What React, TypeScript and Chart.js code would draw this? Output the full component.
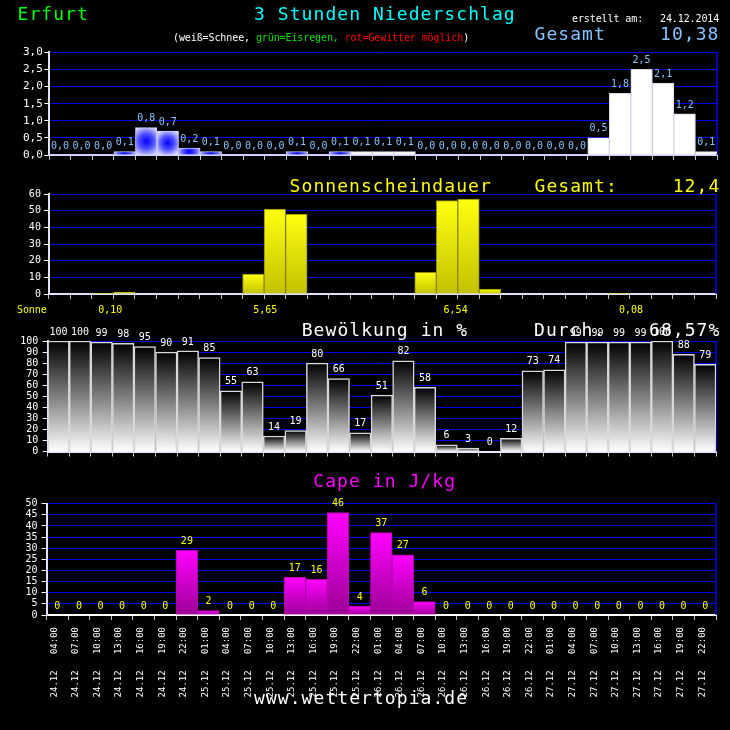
import React, { useEffect, useRef } from 'react';
import { Chart, registerables } from 'chart.js';

Chart.register(...registerables);

const MONO = '"DejaVu Sans Mono", monospace';

// ---------- data ----------
const slotDates = [
  '24.12', '24.12', '24.12', '24.12', '24.12', '24.12', '24.12',
  '25.12', '25.12', '25.12', '25.12', '25.12', '25.12', '25.12', '25.12',
  '26.12', '26.12', '26.12', '26.12', '26.12', '26.12', '26.12', '26.12',
  '27.12', '27.12', '27.12', '27.12', '27.12', '27.12', '27.12', '27.12',
];
const slotTimes = [
  '04:00', '07:00', '10:00', '13:00', '16:00', '19:00', '22:00',
  '01:00', '04:00', '07:00', '10:00', '13:00', '16:00', '19:00', '22:00',
  '01:00', '04:00', '07:00', '10:00', '13:00', '16:00', '19:00', '22:00',
  '01:00', '04:00', '07:00', '10:00', '13:00', '16:00', '19:00', '22:00',
];

// 3-hour precipitation in mm
const precipitation = [
  0.0, 0.0, 0.0, 0.1, 0.8, 0.7, 0.2, 0.1, 0.0, 0.0, 0.0, 0.1, 0.0, 0.1, 0.1, 0.1,
  0.1, 0.0, 0.0, 0.0, 0.0, 0.0, 0.0, 0.0, 0.0, 0.5, 1.8, 2.5, 2.1, 1.2, 0.1,
];
// R = Regen (blau), S = Schnee (weiß)
const precipType = [
  'R', 'R', 'R', 'R', 'R', 'R', 'R', 'R', 'R', 'R', 'R', 'R', 'R', 'R', 'S', 'S',
  'S', 'R', 'R', 'R', 'R', 'R', 'R', 'R', 'R', 'S', 'S', 'S', 'S', 'S', 'S',
];
const sunshine = [
  0, 0, 0.4, 1, 0, 0, 0, 0, 0, 12, 51, 48, 0.3, 0, 0, 0,
  0, 13, 56, 57, 3, 0, 0, 0, 0, 0.3, 0.4, 0.3, 0, 0, 0,
];
const sunDayTotals = ['0,10', '5,65', '6,54', '0,08'];
const sunDayAnchor = [2.35, 9.55, 18.4, 26.55];
const cloudCover = [
  100, 100, 99, 98, 95, 90, 91, 85, 55, 63, 14, 19, 80, 66, 17, 51,
  82, 58, 6, 3, 0, 12, 73, 74, 99, 99, 99, 99, 100, 88, 79,
];
const capeValues = [
  0, 0, 0, 0, 0, 0, 29, 2, 0, 0, 0, 17, 16, 46, 4, 37,
  27, 6, 0, 0, 0, 0, 0, 0, 0, 0, 0, 0, 0, 0, 0,
];

const categories = slotDates.map((d, i) => d + '   ' + slotTimes[i]);

// ---------- helpers ----------
function barBox(c: any) {
  const xs = c.chart.scales.x;
  const ys = c.chart.scales.y;
  const n = c.chart.data.labels.length;
  const w = (xs.right - xs.left) / n;
  const cx = xs.getPixelForValue(c.dataIndex);
  const top = ys.getPixelForValue(c.raw);
  const base = ys.getPixelForValue(0);
  return { cx, w, top, base };
}

function verticalGradient(topColor: string, bottomColor: string) {
  return (c: any) => {
    if (c.type !== 'data' || !c.chart.chartArea) return topColor;
    const b = barBox(c);
    if (!(b.base - b.top > 0.5)) return topColor;
    const g = c.chart.ctx.createLinearGradient(0, b.top, 0, b.base);
    g.addColorStop(0, topColor);
    g.addColorStop(1, bottomColor);
    return g;
  };
}

const precipFill = (c: any) => {
  if (c.type !== 'data' || !c.chart.chartArea) return '#4040ff';
  if (precipType[c.dataIndex] === 'S') return '#ffffff';
  const b = barBox(c);
  const h = b.base - b.top;
  if (h < 0.5) return '#4040ff';
  const cy = (b.top + b.base) / 2;
  const r = Math.max(b.w, h) * 0.62;
  const g = c.chart.ctx.createRadialGradient(b.cx, cy, 0, b.cx, cy, r);
  g.addColorStop(0, '#0000ff');
  g.addColorStop(0.45, '#5050ff');
  g.addColorStop(1, '#f0f0ff');
  return g;
};

function valueLabels(color: string, size: number, fmt: (v: number) => string) {
  return {
    id: 'valueLabels',
    afterDatasetsDraw(chart: any) {
      const ctx = chart.ctx;
      const meta = chart.getDatasetMeta(0);
      const data = chart.data.datasets[0].data;
      ctx.save();
      ctx.fillStyle = color;
      ctx.font = `${size}px ${MONO}`;
      ctx.textAlign = 'center';
      ctx.textBaseline = 'bottom';
      meta.data.forEach((el: any, i: number) => {
        ctx.fillText(fmt(data[i]), el.x, el.y - 4);
      });
      ctx.restore();
    },
  };
}

const rightFrame = {
  id: 'rightFrame',
  beforeDatasetsDraw(chart: any) {
    const { ctx, chartArea: a } = chart;
    ctx.save();
    ctx.strokeStyle = '#0000e8';
    ctx.lineWidth = 1.5;
    ctx.beginPath();
    ctx.moveTo(a.right, a.top);
    ctx.lineTo(a.right, a.bottom);
    ctx.stroke();
    ctx.restore();
  },
};

const sunTotalsPlugin = {
  id: 'sunTotals',
  afterDraw(chart: any) {
    const { ctx, chartArea } = chart;
    const xs = chart.scales.x;
    ctx.save();
    ctx.fillStyle = '#ffff00';
    ctx.font = `10px ${MONO}`;
    ctx.textAlign = 'center';
    ctx.textBaseline = 'alphabetic';
    sunDayTotals.forEach((t, i) => {
      ctx.fillText(t, xs.getPixelForValue(sunDayAnchor[i]), chartArea.bottom + 19);
    });
    ctx.restore();
  },
};

type PanelSpec = {
  yMax: number;
  yStep: number;
  yFmt: (v: number) => string;
  yFont: number;
  yPad: number;
  left: number;
  right: number;
  padTop: number;
  xHeight: number;
  xBorder: string;
  xTicks: any;
};

function panelOptions(s: PanelSpec): any {
  return {
    responsive: false,
    maintainAspectRatio: false,
    animation: false,
    events: [],
    layout: { padding: { top: s.padTop, right: s.right, left: 0, bottom: 0 } },
    plugins: { legend: { display: false }, tooltip: { enabled: false }, title: { display: false } },
    scales: {
      x: {
        type: 'category',
        offset: true,
        grid: {
          display: true,
          drawOnChartArea: false,
          drawTicks: true,
          tickLength: 5,
          color: '#c4c4c4',
          offset: true,
        },
        border: { display: true, color: s.xBorder, width: 2 },
        ticks: s.xTicks,
        afterFit: (sc: any) => {
          sc.height = s.xHeight;
        },
      },
      y: {
        min: 0,
        max: s.yMax,
        ticks: {
          stepSize: s.yStep,
          autoSkip: false,
          maxTicksLimit: 20,
          color: '#ffffff',
          font: { family: MONO, size: s.yFont },
          padding: s.yPad,
          callback: (v: any) => s.yFmt(Number(v)),
        },
        grid: { color: '#0000e8', lineWidth: 1, tickColor: '#ffffff', tickLength: 5, drawTicks: true },
        border: { display: true, color: '#e0e0ff', width: 2 },
        afterFit: (sc: any) => {
          sc.width = s.left;
        },
      },
    },
  };
}

const hiddenTicks = { display: false, autoSkip: false };

export default function App() {
  const pRef = useRef<HTMLCanvasElement>(null);
  const sRef = useRef<HTMLCanvasElement>(null);
  const cRef = useRef<HTMLCanvasElement>(null);
  const kRef = useRef<HTMLCanvasElement>(null);

  useEffect(() => {
    document.body.style.background = '#000';
    const charts: Chart[] = [];

    charts.push(
      new Chart(pRef.current!, {
        type: 'bar',
        data: {
          labels: categories,
          datasets: [
            {
              data: precipitation,
              backgroundColor: precipFill as any,
              borderColor: precipType.map((t) => (t === 'S' ? '#d4d4e4' : '#c8c8ff')),
              borderWidth: 1,
              barPercentage: 1,
              categoryPercentage: 1,
            },
          ],
        },
        options: panelOptions({
          yMax: 3,
          yStep: 0.5,
          yFmt: (v) => v.toFixed(1).replace('.', ','),
          yFont: 11,
          yPad: 1.5,
          left: 49.3,
          right: 13,
          padTop: 12.3,
          xHeight: 10,
          xBorder: '#d0d0ff',
          xTicks: hiddenTicks,
        }),
        plugins: [rightFrame, valueLabels('#87c3ff', 10, (v) => v.toFixed(1).replace('.', ','))],
      } as any)
    );

    charts.push(
      new Chart(sRef.current!, {
        type: 'bar',
        data: {
          labels: categories,
          datasets: [
            {
              data: sunshine,
              backgroundColor: verticalGradient('#ffff10', '#c4c000') as any,
              borderColor: '#8a8a00',
              borderWidth: 1,
              barPercentage: 1,
              categoryPercentage: 1,
            },
          ],
        },
        options: panelOptions({
          yMax: 60,
          yStep: 10,
          yFmt: (v) => String(v),
          yFont: 10,
          yPad: 3,
          left: 48.9,
          right: 14,
          padTop: 14,
          xHeight: 23,
          xBorder: '#e0e0ff',
          xTicks: hiddenTicks,
        }),
        plugins: [rightFrame, sunTotalsPlugin],
      } as any)
    );

    charts.push(
      new Chart(cRef.current!, {
        type: 'bar',
        data: {
          labels: categories,
          datasets: [
            {
              data: cloudCover,
              backgroundColor: verticalGradient('#000000', '#ffffff') as any,
              borderColor: '#d8d8d8',
              borderWidth: 1.5,
              barPercentage: 1,
              categoryPercentage: 1,
            },
          ],
        },
        options: panelOptions({
          yMax: 100,
          yStep: 10,
          yFmt: (v) => String(v),
          yFont: 10,
          yPad: 4.5,
          left: 47.7,
          right: 14,
          padTop: 23,
          xHeight: 10,
          xBorder: '#e8e8ff',
          xTicks: hiddenTicks,
        }),
        plugins: [rightFrame, valueLabels('#ffffff', 10, (v) => String(v))],
      } as any)
    );

    charts.push(
      new Chart(kRef.current!, {
        type: 'bar',
        data: {
          labels: categories,
          datasets: [
            {
              data: capeValues,
              backgroundColor: verticalGradient('#ff00ff', '#9c0096') as any,
              borderColor: '#b000b0',
              borderWidth: 1,
              barPercentage: 1,
              categoryPercentage: 1,
            },
          ],
        },
        options: panelOptions({
          yMax: 50,
          yStep: 5,
          yFmt: (v) => String(v),
          yFont: 10,
          yPad: 4,
          left: 46.5,
          right: 14,
          padTop: 13.7,
          xHeight: 115,
          xBorder: '#ffffff',
          xTicks: {
            display: true,
            autoSkip: false,
            minRotation: 90,
            maxRotation: 90,
            color: '#ffffff',
            font: { family: MONO, size: 9 },
            padding: 7,
            labelOffset: -3,
          },
        }),
        plugins: [rightFrame, valueLabels('#ffff00', 10, (v) => String(v))],
      } as any)
    );

    return () => charts.forEach((c) => c.destroy());
  }, []);

  const big: React.CSSProperties = { fontFamily: MONO, fontSize: '18px', letterSpacing: '1.06px' };
  const small: React.CSSProperties = { fontFamily: MONO, fontSize: '10px', letterSpacing: '-0.1px', whiteSpace: 'pre' };

  const cv = (top: number, h: number): React.CSSProperties => ({
    position: 'absolute',
    left: 0,
    top,
    width: 730,
    height: h,
  });

  return (
    <div
      style={{
        position: 'fixed',
        left: 0,
        top: 0,
        width: 730,
        height: 730,
        background: '#000',
        overflow: 'hidden',
      }}
    >
      <canvas ref={pRef} width={730} height={125} style={cv(40, 125)} />
      <canvas ref={sRef} width={730} height={137} style={cv(180, 137)} />
      <canvas ref={cRef} width={730} height={144} style={cv(318, 144)} />
      <canvas ref={kRef} width={730} height={240} style={cv(490, 240)} />
      <svg
        width={730}
        height={730}
        style={{ position: 'absolute', left: 0, top: 0, pointerEvents: 'none' }}
        xmlSpace="preserve"
      >
        <text x={17.5} y={20} fill="#00ff00" style={big}>Erfurt</text>
        <text x={254} y={20} fill="#00ffff" style={big}>3 Stunden Niederschlag</text>
        <text x={572} y={22} fill="#ffffff" style={small}>erstellt am:</text>
        <text x={660} y={22} fill="#ffffff" style={small}>24.12.2014</text>
        <text x={173} y={41} style={small}>
          <tspan fill="#ffffff">(weiß=Schnee, </tspan>
          <tspan fill="#00e000">grün=Eisregen, </tspan>
          <tspan fill="#ff0000">rot=Gewitter möglich</tspan>
          <tspan fill="#ffffff">)</tspan>
        </text>
        <text x={534.5} y={40} fill="#87c3ff" style={big}>Gesamt</text>
        <text x={660} y={40} fill="#87c3ff" style={big}>10,38</text>

        <text x={289.6} y={192} fill="#ffff00" style={big}>Sonnenscheindauer</text>
        <text x={534.5} y={192} fill="#ffff00" style={big}>Gesamt:</text>
        <text x={672.7} y={192} fill="#ffff00" style={big}>12,4</text>
        <text x={17} y={313} fill="#ffff00" style={small}>Sonne</text>

        <text x={301.7} y={336} fill="#ffffff" style={big}>Bewölkung in %</text>
        <text x={534} y={336} fill="#ffffff" style={big}>Durch.</text>
        <text x={649} y={336} fill="#ffffff" style={big}>68,57%</text>

        <text x={313.3} y={487.3} fill="#ff00ff" style={big}>Cape in J/kg</text>

        <text x={254} y={704} fill="#ffffff" style={big}>www.wettertopia.de</text>
      </svg>
    </div>
  );
}
